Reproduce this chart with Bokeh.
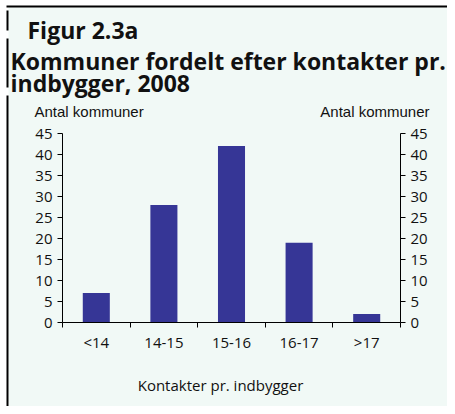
from bokeh.plotting import figure
from bokeh.models import Range1d, FixedTicker, LinearAxis, Label, BoxAnnotation
from bokeh.embed import file_html
from bokeh.resources import INLINE

categories = ["<14", "14-15", "15-16", "16-17", ">17"]
counts = [7, 28, 42, 19, 2]
y_ticks = [0, 5, 10, 15, 20, 25, 30, 35, 40, 45]

BG = "#f1f9f6"
BAR = "#363696"
FONT = "Open Sans"
TXT = "#111111"

W, H = 447, 406
L, T, R, B = 62, 133, 400, 322   # plot-area edges in canvas pixels
YMAX = 45
N = len(categories)
sx = (R - L) / N          # px per x unit
sy = (B - T) / YMAX       # px per y unit

p = figure(width=W, height=H, output_backend="svg", toolbar_location=None,
           x_range=Range1d(-L / sx, N + (W - R) / sx),
           y_range=Range1d(-(H - B) / sy, YMAX + T / sy),
           min_border=0, background_fill_color="white", border_fill_color="white",
           outline_line_color=None, x_axis_location=None, y_axis_location=None)
p.grid.visible = False

def dx(px):
    return (px - L) / sx

def dy(py):
    return (B - py) / sy

# panel background and frame rules
p.add_layout(BoxAnnotation(left=dx(8), right=dx(W), top=dy(7), bottom=dy(H),
                           fill_color=BG, fill_alpha=1, line_color=None, level="underlay"))

def rule(x0, x1, y0, y1):
    p.add_layout(BoxAnnotation(left=dx(x0), right=dx(x1), top=dy(y0), bottom=dy(y1),
                               fill_color="black", fill_alpha=1, line_color=None, level="underlay"))

rule(6, W, 5, 7)
for t, b in [(10, 30), (38, 87), (95, H)]:
    rule(6, 8, t, b)

xs = [i + 0.5 for i in range(N)]
p.vbar(x=xs, top=counts, width=0.4, bottom=0, fill_color=BAR, line_color=None)

xa = LinearAxis(ticker=FixedTicker(ticks=xs, minor_ticks=list(range(N + 1))),
                fixed_location=0, bounds=(0, N))
xa.major_label_overrides = {x: c for x, c in zip(xs, categories)}
xa.major_tick_line_color = None
xa.major_tick_out = 5
xa.major_tick_in = 0
xa.minor_tick_out = 5
xa.minor_tick_in = 0
xa.minor_tick_line_color = "black"
xa.axis_line_color = "black"
xa.major_label_text_font = FONT
xa.major_label_text_font_size = "15px"
xa.major_label_text_color = TXT
xa.major_label_standoff = 4
p.add_layout(xa, "below")

for side, loc in (("left", 0), ("right", N)):
    ya = LinearAxis(ticker=FixedTicker(ticks=y_ticks, minor_ticks=[]),
                    fixed_location=loc, bounds=(0, YMAX))
    ya.major_tick_out = 5
    ya.major_tick_in = 0
    ya.minor_tick_line_color = None
    ya.axis_line_color = "black"
    ya.major_tick_line_color = "black"
    ya.major_label_text_font = FONT
    ya.major_label_text_font_size = "15px"
    ya.major_label_text_color = TXT
    ya.major_label_standoff = 5
    p.add_layout(ya, side)

def lab(px, py, text, size, bold=False, align="left", font=FONT):
    p.add_layout(Label(x=dx(px), y=dy(py), text=text,
                       text_font=font, text_font_size=size, text_align=align,
                       text_baseline="alphabetic", text_color=TXT,
                       text_font_style="bold" if bold else "normal"))

lab(27, 29, "Figur 2.3a", "23px", bold=True)
lab(10, 60, "Kommuner fordelt efter kontakter pr.", "23px", bold=True)
lab(10, 82, "indbygger, 2008", "23px", bold=True)
lab(34, 111, "Antal kommuner", "15px", font="Liberation Sans")
lab(429, 111, "Antal kommuner", "15px", align="right", font="Liberation Sans")
lab(220, 384, "Kontakter pr. indbygger", "15px", align="center")

open("out.html", "w").write(file_html(p, INLINE))
